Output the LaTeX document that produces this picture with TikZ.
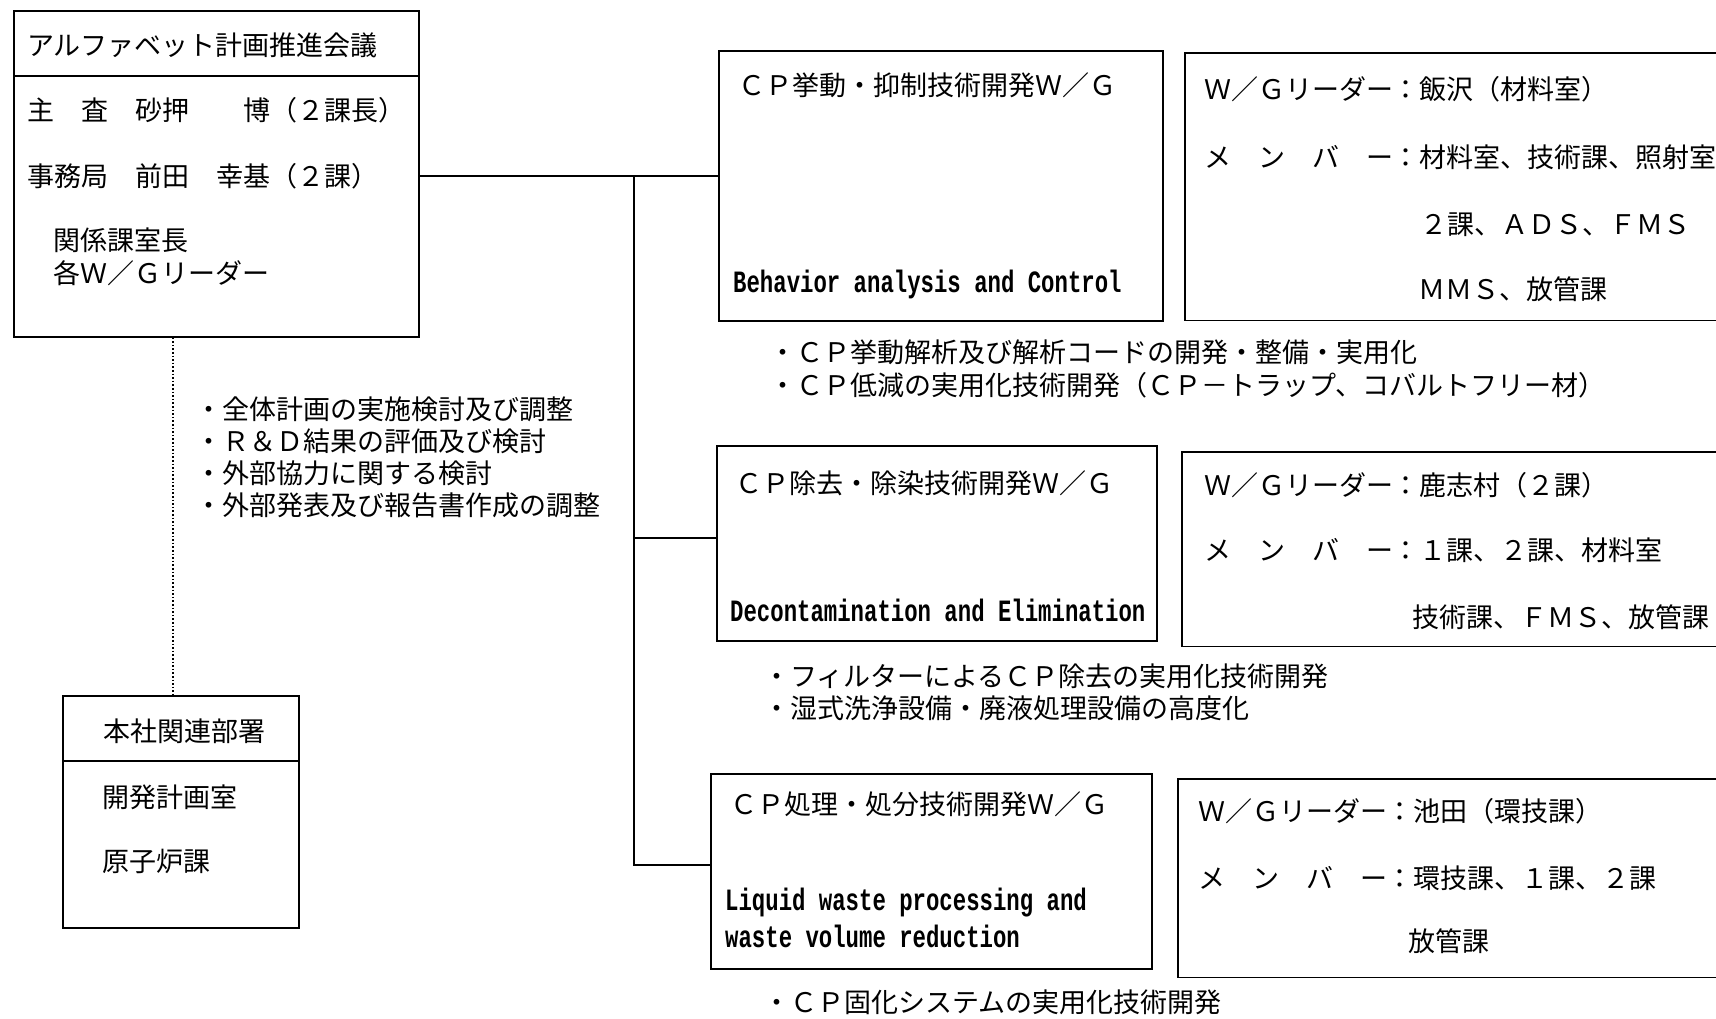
\documentclass[tikz,border=0pt]{standalone}
\usepackage{fontspec}
\newfontfamily\jp{Noto Sans CJK JP}
\newfontfamily\eng[FakeStretch=0.72]{Liberation Mono}
\begin{document}
\begin{tikzpicture}[x=1pt,y=-1pt,
  box/.style={draw, line width=1.5pt, inner sep=0pt, anchor=north west},
  openbox/.style={inner sep=0pt, anchor=north west},
  edge/.style={line width=1.5pt},
  conn/.style={line width=1.3pt},
  jt/.style={font=\jp\fontsize{27}{31}\selectfont, anchor=west, inner sep=0pt},
  et/.style={font=\eng\bfseries\fontsize{31}{34}\selectfont, anchor=west, inner sep=0pt}]
\fill[white] (0,0) rectangle (1716,1018);
\useasboundingbox (0,0) rectangle (1716,1018);

% ---- boxes
\node[box, minimum width=405pt, minimum height=326pt] (mtg) at (13,10) {};
\node[box, minimum width=236pt, minimum height=232pt] (hq) at (62,695) {};
\node[box, minimum width=444pt, minimum height=270pt] (b1) at (718,50) {};
\node[box, minimum width=440pt, minimum height=195pt] (b2) at (716,445) {};
\node[box, minimum width=441pt, minimum height=195pt] (b3) at (710,773) {};
\node[openbox, minimum width=531pt, minimum height=267pt] (r1) at (1185,53) {};
\node[openbox, minimum width=534pt, minimum height=194pt] (r2) at (1182,452) {};
\node[openbox, minimum width=538pt, minimum height=198pt] (r3) at (1178,779) {};
\foreach \r in {r1,r2,r3}
  \draw[edge] (\r.north east) -- (\r.north west) -- (\r.south west) -- (\r.south east);

% dividers
\coordinate (d1) at (0,76);
\coordinate (d2) at (0,761);
\draw[edge] (mtg.west |- d1) -- (mtg.east |- d1);
\draw[edge] (hq.west |- d2) -- (hq.east |- d2);

% ---- connectors
\coordinate (jt) at (634,176);
\coordinate (jm) at (634,538);
\coordinate (jb) at (634,865);
\coordinate (dx) at (173,0);
\draw[conn] (mtg.east |- jt) -- (b1.west |- jt);
\draw[conn] (jt) -- (jb) -- (b3.west |- jb);
\draw[conn] (jm) -- (b2.west |- jm);
\draw[line width=1.6pt, dotted] (mtg.south -| dx) -- (hq.north -| dx);

% ---- texts: meeting box
\node[jt] (m0) at (27,45) {アルファベット計画推進会議};
\node[jt] (m1) at (27,110) {主　査　砂押　　博（２課長）};
\node[jt] (m2) at (27,176) {事務局　前田　幸基（２課）};
\node[jt] (m3) at (53,240) {関係課室長};
\node[jt] (m4) at (53,273) {各Ｗ／Ｇリーダー};

% left bullets
\node[jt] (l1) at (195,409) {・全体計画の実施検討及び調整};
\node[jt] (l2) at (195,441) {・Ｒ＆Ｄ結果の評価及び検討};
\node[jt] (l3) at (195,473) {・外部協力に関する検討};
\node[jt] (l4) at (195,505) {・外部発表及び報告書作成の調整};

% head office box
\node[jt] (h0) at (103,731) {本社関連部署};
\node[jt] (h1) at (102,797) {開発計画室};
\node[jt] (h2) at (102,861) {原子炉課};

% WG 1
\node[jt] (a0) at (738,85) {ＣＰ挙動・抑制技術開発Ｗ／Ｇ};
\node[et] (a1) at (733,284) {Behavior analysis and Control};
\node[jt] (a2) at (1204,89) {Ｗ／Ｇリーダー};
\node[jt] (a3) at (1392,89) {：飯沢（材料室）};
\node[jt] (a4) at (1204,157) {メ　ン　バ　ー};
\node[jt] (a5) at (1392,157) {：材料室、技術課、照射室};
\node[jt] (a6) at (1420,225) {２課、ＡＤＳ、ＦＭＳ};
\node[jt] (a7) at (1418,289) {ＭＭＳ、放管課};
\node[jt] (a8) at (769,352) {・ＣＰ挙動解析及び解析コードの開発・整備・実用化};
\node[jt] (a9) at (769,385) {・ＣＰ低減の実用化技術開発（ＣＰ－トラップ、コバルトフリー材）};

% WG 2
\node[jt] (b0) at (735,483) {ＣＰ除去・除染技術開発Ｗ／Ｇ};
\node[et] (bb1) at (730,610) {Decontamination and Elimination};
\node[jt] (bb2) at (1204,485) {Ｗ／Ｇリーダー};
\node[jt] (bb3) at (1392,485) {：鹿志村（２課）};
\node[jt] (bb4) at (1204,550) {メ　ン　バ　ー};
\node[jt] (bb5) at (1392,550) {：１課、２課、材料室};
\node[jt] (bb6) at (1412,617) {技術課、ＦＭＳ、放管課};
\node[jt] (bb7) at (763,676) {・フィルターによるＣＰ除去の実用化技術開発};
\node[jt] (bb8) at (763,708) {・湿式洗浄設備・廃液処理設備の高度化};

% WG 3
\node[jt] (c0) at (730,804) {ＣＰ処理・処分技術開発Ｗ／Ｇ};
\node[et] (c1) at (725,903) {Liquid waste processing and};
\node[et] (c2) at (725,936) {waste volume reduction};
\node[jt] (c3) at (1198,811) {Ｗ／Ｇリーダー};
\node[jt] (c4) at (1386,811) {：池田（環技課）};
\node[jt] (c5) at (1198,878) {メ　ン　バ　ー};
\node[jt] (c6) at (1386,878) {：環技課、１課、２課};
\node[jt] (c7) at (1408,941) {放管課};
\node[jt] (c8) at (763,1002) {・ＣＰ固化システムの実用化技術開発};
\end{tikzpicture}
\end{document}
